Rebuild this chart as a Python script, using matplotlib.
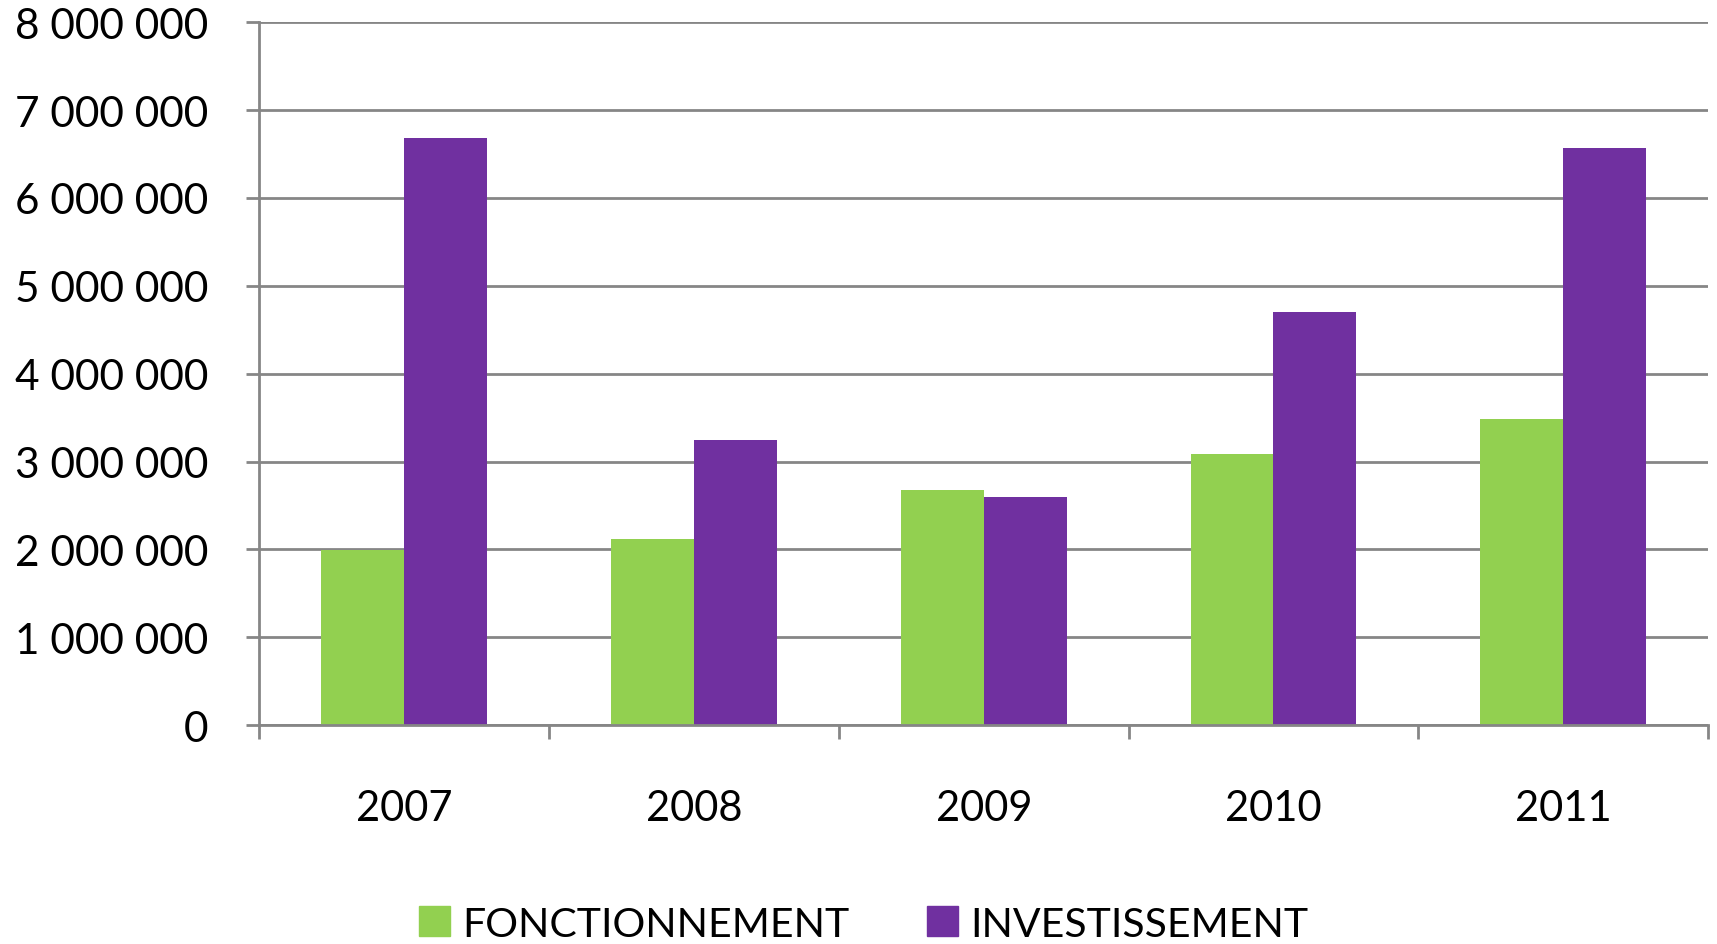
import numpy as np
import matplotlib.pyplot as plt
from matplotlib.ticker import FuncFormatter, FixedLocator
from matplotlib.patches import Patch

years = ["2007", "2008", "2009", "2010", "2011"]
fonctionnement = [1995000, 2115000, 2680000, 3090000, 3490000]
investissement = [6680000, 3250000, 2600000, 4700000, 6570000]
series_names = ["FONCTIONNEMENT", "INVESTISSEMENT"]
yticks = [0, 1000000, 2000000, 3000000, 4000000, 5000000, 6000000, 7000000, 8000000]

green = "#92D050"
purple = "#7030A0"
grey = "#868686"

plt.rcParams['font.family'] = ['Lato', 'DejaVu Sans']

fig = plt.figure(figsize=(17.17, 9.45), dpi=100)
ax = fig.add_axes([0.1511, 0.2315, 0.8437, 0.7440])

x = np.arange(len(years))
w = 0.286
ax.bar(x - w / 2, fonctionnement, w, color=green, zorder=3)
ax.bar(x + w / 2, investissement, w, color=purple, zorder=3)

ax.set_xlim(-0.5, len(years) - 0.5)
ax.set_ylim(0, 8000000)
ax.set_yticks(yticks)
ax.yaxis.set_major_formatter(FuncFormatter(lambda v, p: f"{int(v):,}".replace(",", " ")))
ax.grid(axis='y', color=grey, linewidth=2, zorder=0)

# boundaries get tick marks, centres get the labels
ax.xaxis.set_major_locator(FixedLocator(np.arange(-0.5, len(years), 1.0)))
ax.xaxis.set_major_formatter(FuncFormatter(lambda v, p: ""))
ax.xaxis.set_minor_locator(FixedLocator(x))
ax.set_xticklabels(years, minor=True)
ax.tick_params(axis='x', which='major', length=10, width=2, color=grey)
ax.tick_params(axis='x', which='minor', length=0, pad=46, labelsize=30)
ax.tick_params(axis='y', length=9.5, width=2, color=grey, pad=27, labelsize=30.5)

for s in ['top', 'right']:
    ax.spines[s].set_visible(False)
for s in ['left', 'bottom']:
    ax.spines[s].set_color(grey)
    ax.spines[s].set_linewidth(2)
    ax.spines[s].set_zorder(4)

handles = [Patch(color=green), Patch(color=purple)]
fig.legend(handles, series_names, loc='center', bbox_to_anchor=(0.503, 0.021),
           ncol=2, frameon=False, fontsize=29.5, handlelength=0.75, handleheight=0.75,
           handletextpad=0.3, columnspacing=1.9)

fig.savefig("out.png", dpi=100)
